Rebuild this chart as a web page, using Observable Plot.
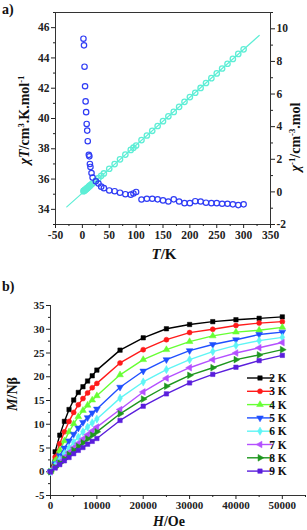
<!DOCTYPE html>
<html><head><meta charset="utf-8">
<script src="https://cdn.jsdelivr.net/npm/d3@7"></script>
<script src="https://cdn.jsdelivr.net/npm/@observablehq/plot@0.6"></script>
<style>
html,body{margin:0;padding:0;background:#fff;overflow:hidden;}
#wrap{position:relative;width:307px;height:530px;overflow:hidden;}
#wrap svg{position:absolute;left:0;}
</style></head><body><div id="wrap"></div>
<script>
// ---------- Panel a data ----------
const temps = [2,3,4,5,6,7,8,9,10,12,13,14,15,17,19,25,30,35,40,50,60,70,80,90,95,100,110,120,130,140,150,160,170,180,190,200,210,220,230,240,250,260,270,280,290,300];
const chiT = [45.27,44.83,43.42,42.13,41.13,40.42,39.64,39.2,38.5,37.6,37.5,37.0,36.8,36.4,36.1,35.85,35.7,35.5,35.4,35.25,35.2,35.1,35.0,34.97,35.05,35.15,34.65,34.7,34.70,34.66,34.59,34.52,34.66,34.52,34.41,34.41,34.54,34.52,34.44,34.41,34.41,34.37,34.37,34.33,34.28,34.33];
const chiInv = [0.044,0.067,0.092,0.119,0.146,0.173,0.202,0.230,0.260,0.319,0.347,0.378,0.408,0.467,0.526,0.697,0.840,0.986,1.130,1.418,1.705,1.994,2.286,2.574,2.710,2.845,3.175,3.458,3.746,4.039,4.337,4.635,4.905,5.214,5.522,5.812,6.080,6.373,6.678,6.975,7.265,7.565,7.856,8.156,8.460,8.739];
const fitT = [-29, 329];
const fitInv = [-0.92, 9.59];
const xTicksA = [-50,0,50,100,150,200,250,300,350];
const xMinorA = [-25,25,75,125,175,225,275,325];
const leftTicks = [34,36,38,40,42,44,46];
const leftMinor = [33,35,37,39,41,43,45,47];
const rightTicks = [-2,0,2,4,6,8,10];
const rightMinor = [-1,1,3,5,7,9,11];

// ---------- Panel b data ----------
const fields = [0,1000,2000,3000,4000,5000,6000,7000,8000,9000,10000,15000,20000,25000,30000,35000,40000,45000,50000];
const seriesNames = ["2 K","3 K","4 K","5 K","6 K","7 K","8 K","9 K"];
const M2 = [0,4.2,7.7,10.6,13.1,15.1,16.7,17.9,19.1,20.2,21.4,25.6,28.2,30.1,31.0,31.6,32.0,32.3,32.6];
const M3 = [0,3.1,5.9,8.4,10.6,12.5,14.1,15.4,16.6,17.7,18.6,22.9,25.7,27.8,29.3,30.0,30.8,31.3,31.6];
const M4 = [0,2.3,4.5,6.5,8.4,10.1,11.6,12.9,14.0,15.1,16.0,20.4,23.6,25.7,27.4,28.6,29.4,29.8,30.4];
const M5 = [0,1.7,3.4,5.0,6.5,7.9,9.2,10.4,11.4,12.4,13.2,17.8,21.2,23.6,25.5,26.8,27.8,28.9,29.4];
const M6 = [0,1.3,2.6,3.8,5.0,6.2,7.3,8.4,9.4,10.3,11.1,15.5,18.9,21.5,23.6,25.3,26.6,27.6,28.3];
const M7 = [0,1.0,2.1,3.1,4.1,5.1,6.0,6.9,7.8,8.6,9.4,13.1,16.8,19.7,21.9,23.6,25.0,26.1,27.2];
const M8 = [0,0.9,1.8,2.7,3.6,4.5,5.3,6.1,6.9,7.7,8.4,12.2,15.3,18.0,20.3,21.9,23.6,24.6,25.7];
const M9 = [0,0.8,1.5,2.3,3.0,3.8,4.5,5.1,5.8,6.4,7.0,10.8,13.8,16.4,18.7,20.5,22.0,23.4,24.5];
const seriesValues = [M2,M3,M4,M5,M6,M7,M8,M9];
const seriesColors = ["#000000","#ff1a1a","#66ff33","#1f4fff","#5ff5f5","#b450ff","#1e961e","#5a1edc"];
const xTicksB = [0,10000,20000,30000,40000,50000];
const xMinorB = [5000,15000,25000,35000,45000,55000];
const yTicksB = [-5,0,5,10,15,20,25,30,35];
const yMinorB = [-2.5,2.5,7.5,12.5,17.5,22.5,27.5,32.5];

// ---------- custom symbols ----------
const k3 = Math.sqrt(3);
const tri = (pts) => ({draw(ctx, size){ const t = Math.sqrt(size/(k3*3)); ctx.moveTo(pts[0][0]*t, pts[0][1]*t); ctx.lineTo(pts[1][0]*t, pts[1][1]*t); ctx.lineTo(pts[2][0]*t, pts[2][1]*t); ctx.closePath(); }});
const triUp = tri([[0,-2],[-k3,1],[k3,1]]);
const triDown = tri([[0,2],[-k3,-1],[k3,-1]]);
const triLeft = tri([[-2,0],[1,-k3],[1,k3]]);
const triRight = tri([[2,0],[-1,-k3],[-1,k3]]);
const seriesSymbols = [d3.symbolSquare, d3.symbolCircle, triUp, triDown, d3.symbolDiamond, triLeft, triRight, d3.symbolSquare];

const FONT = "Liberation Serif, Times New Roman, serif";
const fmt = d => String(d);
const wrap = document.getElementById("wrap");

// ---------- Panel a : chi^-1 (bottom layer, right axis) ----------
const invData = temps.map((t,i)=>({T:t, v:chiInv[i]}));
const fitData = fitT.map((t,i)=>({T:t, v:fitInv[i]}));
const pa1 = Plot.plot({
  width:307, height:270, marginLeft:55, marginRight:37, marginTop:12, marginBottom:46,
  style:{fontFamily:FONT, fontSize:"11.5px", fontWeight:"bold", background:"white", color:"#222"},
  x:{domain:[-50,350], label:null, axis:null}, y:{domain:[-2,11], label:null},
  marks:[
    Plot.line(fitData, {x:"T", y:"v", stroke:"#5eeed6", strokeWidth:1.2}),
    Plot.dot(invData, {x:"T", y:"v", r:2.7, stroke:"#5eeed6", strokeWidth:1.3, fill:"none"}),
    Plot.axisY({anchor:"right", ticks:rightTicks, tickSize:4, tickPadding:2, tickFormat:fmt, label:null}),
    Plot.axisY({anchor:"right", ticks:rightMinor, tickSize:2, tickFormat:()=>"", label:null})
  ]
});
pa1.style.top = "0px";
wrap.appendChild(pa1);

// ---------- Panel a : chiT (top layer, left axis) ----------
const chiData = temps.map((t,i)=>({T:t, v:chiT[i]}));
const pa2 = Plot.plot({
  width:307, height:270, marginLeft:55, marginRight:37, marginTop:12, marginBottom:46,
  style:{fontFamily:FONT, fontSize:"11.5px", fontWeight:"bold", background:"transparent", color:"#222"},
  x:{domain:[-50,350], label:null}, y:{domain:[33,47], label:null},
  marks:[
    Plot.frame({stroke:"#333", strokeWidth:1}),
    Plot.dot(chiData, {x:"T", y:"v", r:2.7, stroke:"#2f3cf5", strokeWidth:1.2, fill:"none"}),
    Plot.axisX({ticks:xTicksA, tickSize:4, tickPadding:2, tickFormat:fmt, label:null}),
    Plot.axisX({ticks:xMinorA, tickSize:2, tickFormat:()=>"", label:null}),
    Plot.axisY({ticks:leftTicks, tickSize:4, tickPadding:2, tickFormat:fmt, label:null}),
    Plot.axisY({ticks:leftMinor, tickSize:2, tickFormat:()=>"", label:null})
  ]
});
pa2.style.top = "0px";
wrap.appendChild(pa2);

function addText(svg, x, y, parts, opts={}) {
  const t = d3.select(svg).append("text")
    .attr("x", x).attr("y", y)
    .attr("font-family", FONT).attr("font-weight", "bold")
    .attr("font-size", opts.size || 14).attr("fill", "#111")
    .attr("text-anchor", opts.anchor || "middle");
  if (opts.rotate) t.attr("transform", `rotate(${opts.rotate},${x},${y})`);
  parts.forEach(p => {
    const s = t.append("tspan").text(p.t);
    if (p.i) s.attr("font-style", "italic");
    if (p.sup) s.attr("font-size", (opts.size||14)*0.62).attr("dy", -5);
    if (p.down) s.attr("dy", 5);
  });
  return t;
}
addText(pa2, 2, 14, [{t:"a)"}], {anchor:"start", size:14});
addText(pa2, 164, 259, [{t:"T", i:true},{t:"/K"}], {size:15});
addText(pa2, 29, 120, [{t:"χ", i:true},{t:"T", i:true},{t:"/cm"},{t:"3", sup:true},{t:".K.mol", down:true},{t:"-1", sup:true}], {rotate:-90, size:14});
addText(pa2, 300, 137, [{t:"χ", i:true},{t:"-1", sup:true},{t:"/cm", down:true},{t:"-3", sup:true},{t:".mol", down:true}], {rotate:-90, size:14});

// ---------- Panel b ----------
const xDomB = [0,55000], yDomB = [-5,35];
const marksB = [
  Plot.ruleX([xDomB[0]], {stroke:"#333"}),
  Plot.ruleY([yDomB[0]], {stroke:"#333"}),
  Plot.axisX({ticks:xTicksB, tickSize:4, tickPadding:2, tickFormat:fmt, label:null}),
  Plot.axisX({ticks:xMinorB, tickSize:2, tickFormat:()=>"", label:null}),
  Plot.axisY({ticks:yTicksB, tickSize:4, tickPadding:2, tickFormat:fmt, label:null}),
  Plot.axisY({ticks:yMinorB, tickSize:2, tickFormat:()=>"", label:null})
];
seriesValues.forEach((vals, s) => {
  const rows = fields.map((h,i)=>({H:h, M:vals[i]}));
  marksB.push(Plot.line(rows, {x:"H", y:"M", stroke:seriesColors[s], strokeWidth:1.4}));
  marksB.push(Plot.dot(rows, {x:"H", y:"M", r:2.5, symbol:seriesSymbols[s], fill:seriesColors[s], stroke:seriesColors[s], strokeWidth:0.5}));
});
const pb = Plot.plot({
  width:307, height:260, marginLeft:50, marginRight:2, marginTop:35, marginBottom:35,
  style:{fontFamily:FONT, fontSize:"11px", fontWeight:"bold", background:"transparent", color:"#222"},
  x:{domain:xDomB, label:null}, y:{domain:yDomB, label:null},
  marks:marksB
});
pb.style.top = "270px";
wrap.appendChild(pb);
addText(pb, 2, 21, [{t:"b)"}], {anchor:"start", size:14});
addText(pb, 169, 256, [{t:"H", i:true},{t:"/Oe"}], {size:14});
addText(pb, 17, 124, [{t:"M", i:true},{t:"/Nβ"}], {rotate:-90, size:14});

// legend
const lg = d3.select(pb).append("g");
seriesNames.forEach((name, s) => {
  const y = 108 + 13.3*s;
  lg.append("line").attr("x1",247).attr("x2",273).attr("y1",y).attr("y2",y)
    .attr("stroke", seriesColors[s]).attr("stroke-width",1.4);
  lg.append("path").attr("d", d3.symbol(seriesSymbols[s], Math.PI*2.5*2.5)())
    .attr("transform", `translate(260,${y})`).attr("fill", seriesColors[s]).attr("stroke", seriesColors[s]).attr("stroke-width",0.5);
  lg.append("text").attr("x",278).attr("y",y).attr("dy","0.35em")
    .attr("font-family",FONT).attr("font-weight","bold").attr("font-size",11.5).attr("fill","#111")
    .text(name);
});
</script></body></html>
